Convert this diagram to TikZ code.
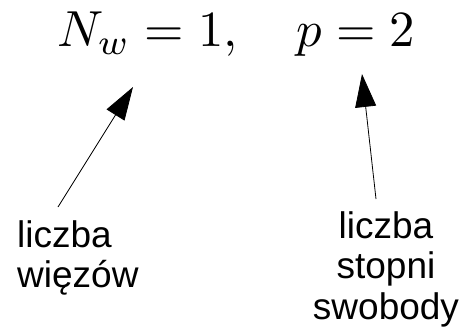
\documentclass[tikz,border=0pt]{standalone}
\usepackage{fontspec}
\setmainfont{Liberation Sans}
\usepackage{amsmath}
\usepackage{graphicx}
\usetikzlibrary{arrows.meta}

\begin{document}
\begin{tikzpicture}[x=1pt, y=-1pt, >={Triangle[length=33pt, width=21pt]},
  pointer/.style={->, line width=0.8pt},
  label/.style={inner sep=0pt, font=\fontsize{37}{40.5}\selectfont}]
\useasboundingbox (0,0) rectangle (465,331);

% Formula
\node[inner sep=0pt, anchor=base west] (wzor) at (57,47) {\scalebox{5.07}{$N_w = 1, \quad p = 2$}};

% Labels
\node[label, align=left, anchor=north west] (wiezy) at (17,220) {liczba\\więzów};
\node[label, align=center, anchor=north] (swoboda) at (386,211) {liczba\\stopni\\swobody};

% Arrows
\coordinate (wtip) at (133,87);
\coordinate (wstart) at (58,207);
\coordinate (ptip) at (362,74);
\coordinate (pstart) at (376,199);
\draw[pointer] (wstart) -- (wtip);
\draw[pointer] (pstart) -- (ptip);
\end{tikzpicture}
\end{document}
